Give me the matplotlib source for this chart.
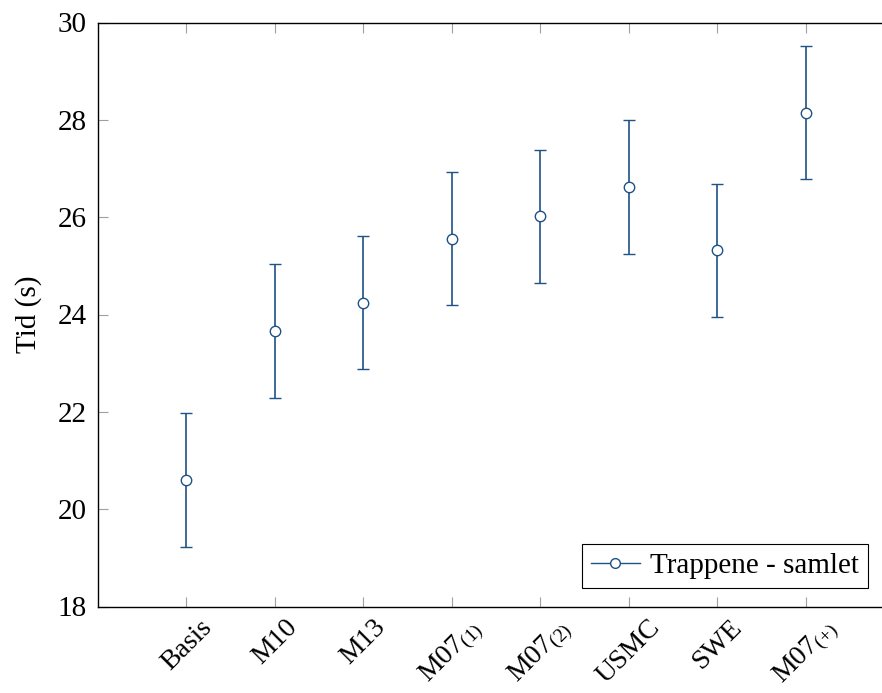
import matplotlib.pyplot as plt

plt.rcParams['font.family'] = ['Liberation Serif', 'DejaVu Serif']
plt.rcParams['mathtext.fontset'] = 'custom'
plt.rcParams['mathtext.rm'] = 'Liberation Serif'
plt.rcParams['mathtext.it'] = 'Liberation Serif:italic'

categories = ['Basis', 'M10', 'M13', r'M07$_{\mathrm{(1)}}$', r'M07$_{\mathrm{(2)}}$',
              'USMC', 'SWE', r'M07$_{\mathrm{(+)}}$']
times = [20.60, 23.66, 24.24, 25.56, 26.02, 26.62, 25.32, 28.15]
errors = [1.37, 1.37, 1.37, 1.37, 1.37, 1.37, 1.37, 1.37]

color = '#1f5285'
x = list(range(1, len(categories) + 1))

fig = plt.figure(figsize=(8.82, 6.93), dpi=100)
ax = fig.add_axes([98 / 882, 1 - 606.5 / 693, 796 / 882, 584 / 693])

ax.errorbar(x, times, yerr=errors, fmt='o', color=color, ecolor=color,
            mfc='white', mec=color, ms=7.5, mew=1.0, elinewidth=1.2,
            capsize=4, capthick=1.2, label='Trappene - samlet')

ax.set_xlim(0, 9)
ax.set_ylim(18, 30)
ax.set_yticks([18, 20, 22, 24, 26, 28, 30])
ax.set_xticks(x)
ax.set_xticklabels(categories, rotation=45, ha='center', va='top')
ax.tick_params(direction='in', length=7.5, width=0.8, color='#a0a0a0',
               top=True, right=True, labelsize=21, pad=8)
ax.tick_params(axis='x', pad=6, labelsize=20)
for s in ax.spines.values():
    s.set_linewidth(1.0)
ax.set_ylabel('Tid (s)', fontsize=21, labelpad=11)

# legend: line through the marker like pgfplots
leg = ax.legend([plt.Line2D([], [], color=color, marker='o', mfc='white', mec=color,
                            ms=7, lw=1.0)], ['Trappene - samlet'],
                loc='lower right', bbox_to_anchor=(868 / 882, 1 - 588 / 693),
                bbox_transform=fig.transFigure, fontsize=21, fancybox=False,
                framealpha=1, edgecolor='black', handlelength=1.7, borderpad=0.3,
                handletextpad=0.35, borderaxespad=0)
leg.get_frame().set_linewidth(0.8)

fig.savefig('out.png', dpi=100)
